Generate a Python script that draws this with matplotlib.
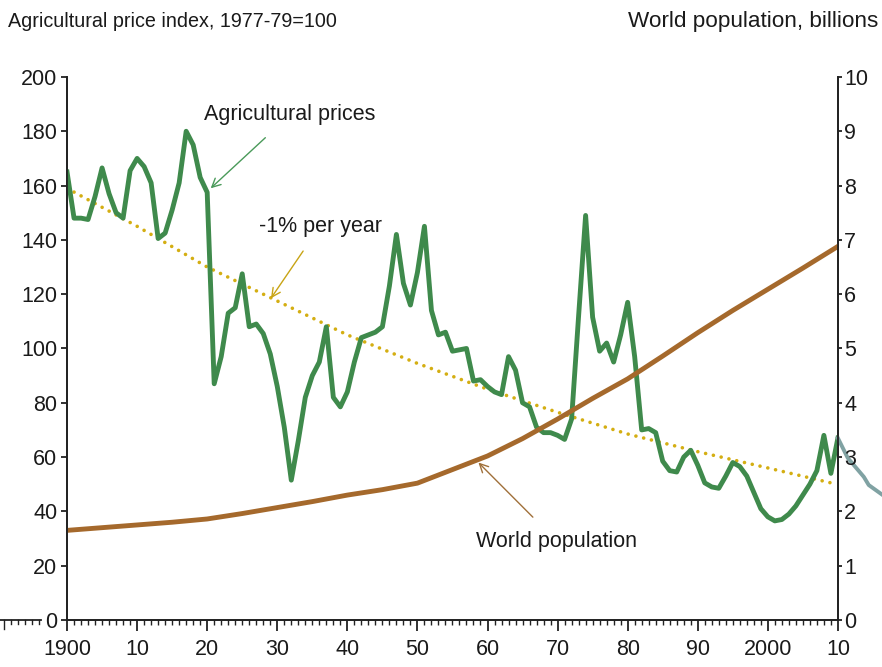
import numpy as np
import matplotlib.pyplot as plt

plt.rcParams['font.family'] = ['Liberation Sans', 'DejaVu Sans']

# agricultural price index (1977-79=100), one value per year
years = list(range(1900, 2011))
prices = [165, 148, 148, 147.5, 156, 166.5, 157, 150, 148, 165.5,
          170, 167, 161, 140.5, 142.5, 151, 161, 180, 175, 163,
          157.5, 87, 97, 113, 115, 127.5, 108, 109, 105.5, 98,
          86, 71, 51.5, 66, 82, 90, 95, 108, 82, 78.5,
          84, 95, 104, 105, 106, 108, 123, 142, 124, 116,
          128, 145, 114, 105, 106, 99, 99.5, 100, 88, 88.5,
          86, 84, 83, 97, 92, 80, 78.5, 71, 69, 69,
          68, 66.5, 74, 112, 149, 111.5, 99, 102, 95, 105,
          117, 97, 70, 70.5, 69, 58.5, 55, 54.5, 60, 62.5,
          57, 50.5, 49, 48.5, 53, 58, 56.5, 53, 47, 41,
          38, 36.5, 37, 39, 42, 46, 50, 55, 68, 54,
          67]

# grey continuation past the right edge
proj_years = [2010, 2011.4, 2013.7, 2014.4, 2016.4]
proj_vals = [67, 59.7, 52.7, 49.7, 46]

# -1% per year trend
trend_years = [1900, 1910, 1920, 1930, 1940, 1950, 1960, 1970, 1980, 1990, 2000, 2009]
trend_vals = [159, 145, 130, 117.5, 105, 94.5, 85, 76.5, 68.5, 62, 56, 50.5]

# world population, billions
pop_years = [1900, 1905, 1910, 1915, 1920, 1925, 1930, 1935, 1940, 1945, 1950, 1955,
             1960, 1965, 1970, 1975, 1980, 1985, 1990, 1995, 2000, 2005, 2010]
pop_vals = [1.65, 1.70, 1.75, 1.80, 1.86, 1.96, 2.07, 2.18, 2.30, 2.40, 2.52, 2.77,
            3.02, 3.34, 3.70, 4.08, 4.44, 4.86, 5.29, 5.70, 6.09, 6.48, 6.88]

xtick_pos = list(range(1900, 2011, 10))
xtick_lab = ['1900', '10', '20', '30', '40', '50', '60', '70', '80', '90', '2000', '10']

green = '#3f8a4c'
brown = '#a5692c'
gold = '#d4ae12'
greyblue = '#80a2a3'
fs = 15.5

fig = plt.figure(figsize=(8.82, 6.67), dpi=100)
ax = fig.add_axes([0.076, 0.0705, 0.874, 0.8141])
ax2 = ax.twinx()

ax.plot(trend_years, trend_vals, color=gold, lw=2.6, linestyle=(0, (0.01, 2.2)),
        dash_capstyle='round', zorder=2)
ax.plot(years, prices, color=green, lw=3.5, solid_joinstyle='round', zorder=3)
ax.plot(proj_years, proj_vals, color=greyblue, lw=2.8, clip_on=False, zorder=3)
ax2.plot(pop_years, pop_vals, color=brown, lw=3.5)

ax.set_xlim(1900, 2010)
ax.set_ylim(0, 200)
ax2.set_ylim(0, 10)
ax.set_yticks(range(0, 201, 20))
ax2.set_yticks(range(0, 11))
ax.set_xticks(xtick_pos)
ax.set_xticklabels(xtick_lab)
ax.set_xticks(range(1900, 2011), minor=True)

for a in (ax, ax2):
    a.spines['top'].set_visible(False)
    for s in a.spines.values():
        s.set_linewidth(1.3)
        s.set_color('#222222')
ax.tick_params(axis='x', which='major', length=8, width=1.3, labelsize=fs, pad=6, colors='#222222')
ax.tick_params(axis='x', which='minor', length=3.5, width=1.0, colors='#222222')
ax.tick_params(axis='y', length=4, width=1.3, labelsize=fs, pad=3, colors='#222222')
ax2.tick_params(axis='y', length=3, width=1.3, labelsize=fs, pad=1.5, colors='#222222')
for lab in ax.get_xticklabels() + ax.get_yticklabels() + ax2.get_yticklabels():
    lab.set_color('#1a1a1a')

# stray piece of axis left of the frame
tr = ax.get_xaxis_transform()
ax.plot([1890.4, 1896.3], [0, 0], color='#222222', lw=1.3, transform=tr, clip_on=False)
for yr in range(1891, 1897):
    ln = 0.016 if yr == 1891 else 0.007
    ax.plot([yr, yr], [0, -ln], color='#222222', lw=1.0, transform=tr, clip_on=False)

ax.annotate('Agricultural prices', xy=(1920.5, 159), xytext=(1931.8, 186),
            fontsize=fs, ha='center', va='center', color='#1a1a1a',
            arrowprops=dict(arrowstyle='->', color='#4a9a5a', lw=1,
                            shrinkA=10, shrinkB=0))
ax.annotate('-1% per year', xy=(1929.1, 118.5), xytext=(1936.1, 145),
            fontsize=fs, ha='center', va='center', color='#1a1a1a',
            arrowprops=dict(arrowstyle='->', color='#c8a415', lw=1,
                            shrinkA=10, shrinkB=0))
ax.annotate('World population', xy=(1958.7, 58), xytext=(1969.9, 29),
            fontsize=fs, ha='center', va='center', color='#1a1a1a',
            arrowprops=dict(arrowstyle='->', color='#a0703a', lw=1,
                            shrinkA=11, shrinkB=0))

fig.text(0.009, 0.968, 'Agricultural price index, 1977-79=100', fontsize=14.2,
         ha='left', va='center', color='#1a1a1a')
fig.text(0.996, 0.968, 'World population, billions', fontsize=16.2,
         ha='right', va='center', color='#1a1a1a')

fig.savefig('out.png', dpi=100)
